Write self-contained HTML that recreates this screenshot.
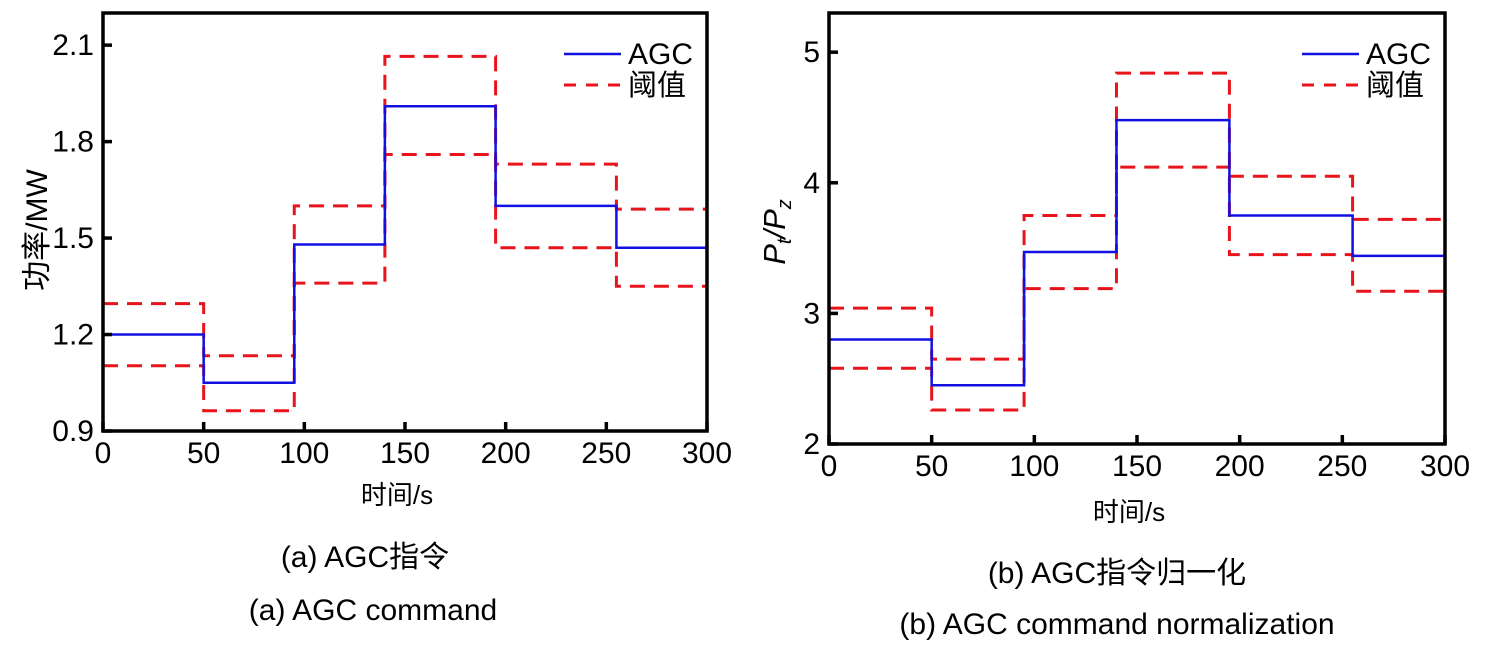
<!DOCTYPE html>
<html><head><meta charset="utf-8"><style>
body{margin:0;background:#fff;}
svg text{font-family:"Liberation Sans","Noto Sans CJK SC",sans-serif;fill:#000;}
</style></head><body>
<svg id="fig" width="1487" height="651" xmlns="http://www.w3.org/2000/svg"></svg>
<script>
const breaks = [0, 50, 95, 140, 195, 255, 300];
const agcA = [1.2, 1.05, 1.48, 1.91, 1.6, 1.47];
const upA = [1.296, 1.134, 1.6, 2.065, 1.73, 1.59];
const loA = [1.103, 0.963, 1.36, 1.76, 1.47, 1.35];
const yTicksA = [0.9, 1.2, 1.5, 1.8, 2.1];
const agcB = [2.8, 2.45, 3.47, 4.48, 3.75, 3.44];
const upB = [3.04, 2.65, 3.75, 4.84, 4.05, 3.72];
const loB = [2.58, 2.26, 3.19, 4.12, 3.45, 3.17];
const yTicksB = [2, 3, 4, 5];
const xTicks = [0, 50, 100, 150, 200, 250, 300];

const NS = "http://www.w3.org/2000/svg";
const svg = document.getElementById('fig');
function mk(tag, attrs, parent, txt){
  const e = document.createElementNS(NS, tag);
  for (const k in attrs) e.setAttribute(k, attrs[k]);
  if (txt !== undefined) e.textContent = txt;
  (parent || svg).appendChild(e);
  return e;
}
function chart(cfg){
  const g = mk('g', {});
  
  
  const X = v => cfg.x0 + (v - 0) / 300 * (cfg.x1 - cfg.x0);
  const Y = v => cfg.yb - (v - cfg.ymin) / (cfg.ymax - cfg.ymin) * (cfg.yb - cfg.yt);
  function step(vals){
    let d = '';
    for (let i = 0; i < vals.length; i++){
      d += (i === 0 ? 'M' : 'L') + X(breaks[i]) + ',' + Y(vals[i]) + 'L' + X(breaks[i+1]) + ',' + Y(vals[i]);
    }
    return d;
  }
  const up = mk('path', {d: step(cfg.up), fill:'none', stroke:'#e8141c', 'stroke-width':3, 'stroke-dasharray':'15,9'}, g);
  
  
  const lo = mk('path', {d: step(cfg.lo), fill:'none', stroke:'#e8141c', 'stroke-width':3, 'stroke-dasharray':'15,9'}, g);
  
  
  const ag = mk('path', {d: step(cfg.agc), fill:'none', stroke:'#1010e0', 'stroke-width':2.5}, g);
  
  
  const box = mk('rect', {x:cfg.x0, y:cfg.yt, width:cfg.x1-cfg.x0, height:cfg.yb-cfg.yt, fill:'none', stroke:'#000', 'stroke-width':3.5}, g);
  
  
  cfg.yTicks.forEach(v => {
    mk('line', {x1:cfg.x0, x2:cfg.x0+9, y1:Y(v), y2:Y(v), stroke:'#000', 'stroke-width':3.5}, g);
    const t = mk('text', {x:cfg.x0-9, y:Y(v)+10, 'font-size':30, 'text-anchor':'end'}, g, cfg.yFmt(v));
    
    
  });
  xTicks.forEach(v => {
    mk('line', {x1:X(v), x2:X(v), y1:cfg.yb, y2:cfg.yb-9, stroke:'#000', 'stroke-width':3.5}, g);
    const t = mk('text', {x:X(v), y:cfg.yb+32, 'font-size':30, 'text-anchor':'middle'}, g, String(v));
    
    
  });
  const lx = cfg.x1 - 143;
  mk('line', {x1:lx, x2:lx+57, y1:cfg.yt+41, y2:cfg.yt+41, stroke:'#1010e0', 'stroke-width':2.5}, g);
  mk('line', {x1:lx, x2:lx+57, y1:cfg.yt+72, y2:cfg.yt+72, stroke:'#e8141c', 'stroke-width':3, 'stroke-dasharray':'12,10'}, g);
  const l1 = mk('text', {x:lx+64, y:cfg.yt+51, 'font-size':30}, g, 'AGC');
  
  
  const l2 = mk('text', {x:lx+64, y:cfg.yt+82, 'font-size':29}, g, '阈值');
  
  
  const xt = mk('text', {x:(cfg.x0+cfg.x1)/2-8, y:cfg.xTitleY, 'font-size':26, 'text-anchor':'middle'}, g, '时间/s');
  
  
  return {g, Y};
}
const A = chart({name:'chart-a', x0:103, x1:707, yt:13, yb:431, ymin:0.9, ymax:2.2, agc:agcA, up:upA, lo:loA, yTicks:yTicksA, yFmt:v=>v.toFixed(1), xTitleY:504});
const B = chart({name:'chart-b', x0:829, x1:1445, yt:13, yb:444, ymin:2, ymax:5.3, agc:agcB, up:upB, lo:loB, yTicks:yTicksB, yFmt:v=>String(v), xTitleY:521});

const ya = mk('text', {x:0, y:0, 'font-size':30, 'text-anchor':'middle', transform:'translate(47,230) rotate(-90)'}, A.g, '功率/MW');


const yb = mk('text', {x:0, y:0, 'font-size':31, 'text-anchor':'middle', 'font-style':'italic', transform:'translate(785,232) rotate(-90)'}, B.g);


yb.innerHTML = 'P<tspan font-size="20" dy="6">t</tspan><tspan dy="-6">/P</tspan><tspan font-size="20" dy="6">z</tspan>';

const caps = [[365,567,'(a) AGC指令'],[373,620,'(a) AGC command'],[1117,583,'(b) AGC指令归一化'],[1117,634,'(b) AGC command normalization']];
caps.forEach(c => {
  const t = mk('text', {x:c[0], y:c[1], 'font-size':30, 'text-anchor':'middle'}, svg, c[2]);
  
  
});
</script>
</body></html>
